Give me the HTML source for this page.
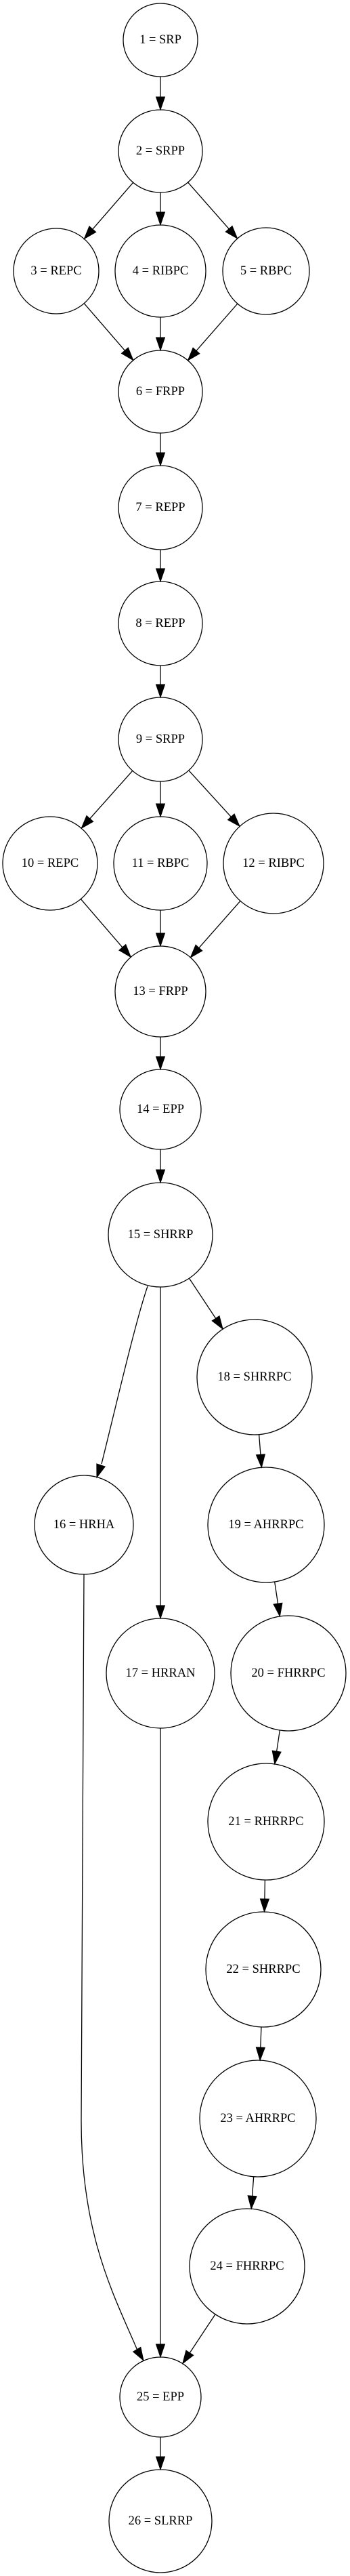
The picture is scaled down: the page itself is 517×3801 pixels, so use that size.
<!DOCTYPE html>
<html><head><meta charset="utf-8"><style>
html,body{margin:0;padding:0;background:#fff;}
svg{display:block;}
text{font-family:"Liberation Serif",serif;font-size:18.5px;fill:#000;text-anchor:middle;dominant-baseline:central;}
ellipse{fill:none;stroke:#000;stroke-width:1.3;}
</style></head><body>
<svg id="g" width="517" height="3801" viewBox="0 0 517 3801" xmlns="http://www.w3.org/2000/svg">
<g id="nodes">
<ellipse cx="237" cy="59" rx="55" ry="54"/><text x="237" y="59">1 = SRP</text>
<ellipse cx="237" cy="223" rx="62" ry="61"/><text x="237" y="223">2 = SRPP</text>
<ellipse cx="83" cy="400" rx="63" ry="63"/><text x="83" y="400">3 = REPC</text>
<ellipse cx="237" cy="400" rx="67" ry="68"/><text x="237" y="400">4 = RIBPC</text>
<ellipse cx="393" cy="400" rx="64" ry="64"/><text x="393" y="400">5 = RBPC</text>
<ellipse cx="237" cy="578" rx="62" ry="61"/><text x="237" y="578">6 = FRPP</text>
<ellipse cx="237" cy="749" rx="62" ry="62"/><text x="237" y="749">7 = REPP</text>
<ellipse cx="237" cy="920" rx="62" ry="62"/><text x="237" y="920">8 = REPP</text>
<ellipse cx="237" cy="1091" rx="62" ry="62"/><text x="237" y="1091">9 = SRPP</text>
<ellipse cx="74" cy="1274" rx="70" ry="69"/><text x="74" y="1274">10 = REPC</text>
<ellipse cx="237" cy="1274" rx="69" ry="69"/><text x="237" y="1274">11 = RBPC</text>
<ellipse cx="404" cy="1274" rx="74" ry="74"/><text x="404" y="1274">12 = RIBPC</text>
<ellipse cx="237" cy="1463" rx="67" ry="67"/><text x="237" y="1463">13 = FRPP</text>
<ellipse cx="237" cy="1637" rx="60" ry="59"/><text x="237" y="1637">14 = EPP</text>
<ellipse cx="237" cy="1822" rx="77" ry="77"/><text x="237" y="1822">15 = SHRRP</text>
<ellipse cx="376" cy="2032" rx="85" ry="85"/><text x="376" y="2032">18 = SHRRPC</text>
<ellipse cx="124" cy="2250" rx="73" ry="73"/><text x="124" y="2250">16 = HRHA</text>
<ellipse cx="393" cy="2250" rx="86" ry="85"/><text x="393" y="2250">19 = AHRRPC</text>
<ellipse cx="237" cy="2469" rx="80" ry="81"/><text x="237" y="2469">17 = HRRAN</text>
<ellipse cx="426" cy="2469" rx="85" ry="85"/><text x="426" y="2469">20 = FHRRPC</text>
<ellipse cx="393" cy="2688" rx="86" ry="86"/><text x="393" y="2688">21 = RHRRPC</text>
<ellipse cx="389" cy="2906" rx="85" ry="85"/><text x="389" y="2906">22 = SHRRPC</text>
<ellipse cx="381" cy="3126" rx="86" ry="86"/><text x="381" y="3126">23 = AHRRPC</text>
<ellipse cx="365" cy="3344" rx="85" ry="85"/><text x="365" y="3344">24 = FHRRPC</text>
<ellipse cx="237" cy="3537" rx="60" ry="59"/><text x="237" y="3537">25 = EPP</text>
<ellipse cx="237" cy="3720" rx="76" ry="76"/><text x="237" y="3720">26 = SLRRP</text>
</g>
<g id="edges" fill="none" stroke="#000" stroke-width="1.3">
<path d="M218 1898 C200 1950,170 2080,150 2160"/>
<path d="M124 2323 L120 3130 C120 3300,170 3390,203 3468"/>
</g>
<g id="heads" fill="#000" stroke="#000" stroke-width="1"></g>
</svg>
<script>
var N={1:[237,59,55,54],2:[237,223,62,61],3:[83,400,63,63],4:[237,400,67,68],5:[393,400,64,64],6:[237,578,62,61],7:[237,749,62,62],8:[237,920,62,62],9:[237,1091,62,62],10:[74,1274,70,69],11:[237,1274,69,69],12:[404,1274,74,74],13:[237,1463,67,67],14:[237,1637,60,59],15:[237,1822,77,77],16:[124,2250,73,73],17:[237,2469,80,81],18:[376,2032,85,85],19:[393,2250,86,85],20:[426,2469,85,85],21:[393,2688,86,86],22:[389,2906,85,85],23:[381,3126,86,86],24:[365,3344,85,85],25:[237,3537,60,59],26:[237,3720,76,76]};
var E=[[1,2],[2,3],[2,4],[2,5],[3,6],[4,6],[5,6],[6,7],[7,8],[8,9],[9,10],[9,11],[9,12],[10,13],[11,13],[12,13],[13,14],[14,15],[15,17],[15,18],[18,19],[19,20],[20,21],[21,22],[22,23],[23,24],[17,25],[24,25],[25,26]];
var ns="http://www.w3.org/2000/svg",eg=document.getElementById('edges'),hg=document.getElementById('heads');
function bp(n,dx,dy){var a=N[n];var l=Math.sqrt(dx*dx+dy*dy);var ux=dx/l,uy=dy/l;var t=1/Math.sqrt((ux*ux)/(a[2]*a[2])+(uy*uy)/(a[3]*a[3]));return [a[0]+ux*t,a[1]+uy*t];}
function head(tx,ty,ux,uy){var L=19,W=6.5;var bx=tx-ux*L,by=ty-uy*L;var p=document.createElementNS(ns,'polygon');p.setAttribute('points',tx+','+ty+' '+(bx-uy*W)+','+(by+ux*W)+' '+(bx+uy*W)+','+(by-ux*W));hg.appendChild(p);}
E.forEach(function(e){var a=N[e[0]],b=N[e[1]];var dx=b[0]-a[0],dy=b[1]-a[1];var s=bp(e[0],dx,dy),t=bp(e[1],-dx,-dy);var l=Math.sqrt(dx*dx+dy*dy),ux=dx/l,uy=dy/l;var ln=document.createElementNS(ns,'line');ln.setAttribute('x1',s[0]);ln.setAttribute('y1',s[1]);ln.setAttribute('x2',t[0]-ux*18);ln.setAttribute('y2',t[1]-uy*18);eg.appendChild(ln);head(t[0],t[1],ux,uy);});
(function(){var dx=143-150,dy=2181-2160,l=Math.sqrt(dx*dx+dy*dy);head(143,2180,dx/l,dy/l);dx=212-203;dy=3483-3468;l=Math.sqrt(dx*dx+dy*dy);head(212,3483,dx/l,dy/l);})();
</script>
</body></html>
